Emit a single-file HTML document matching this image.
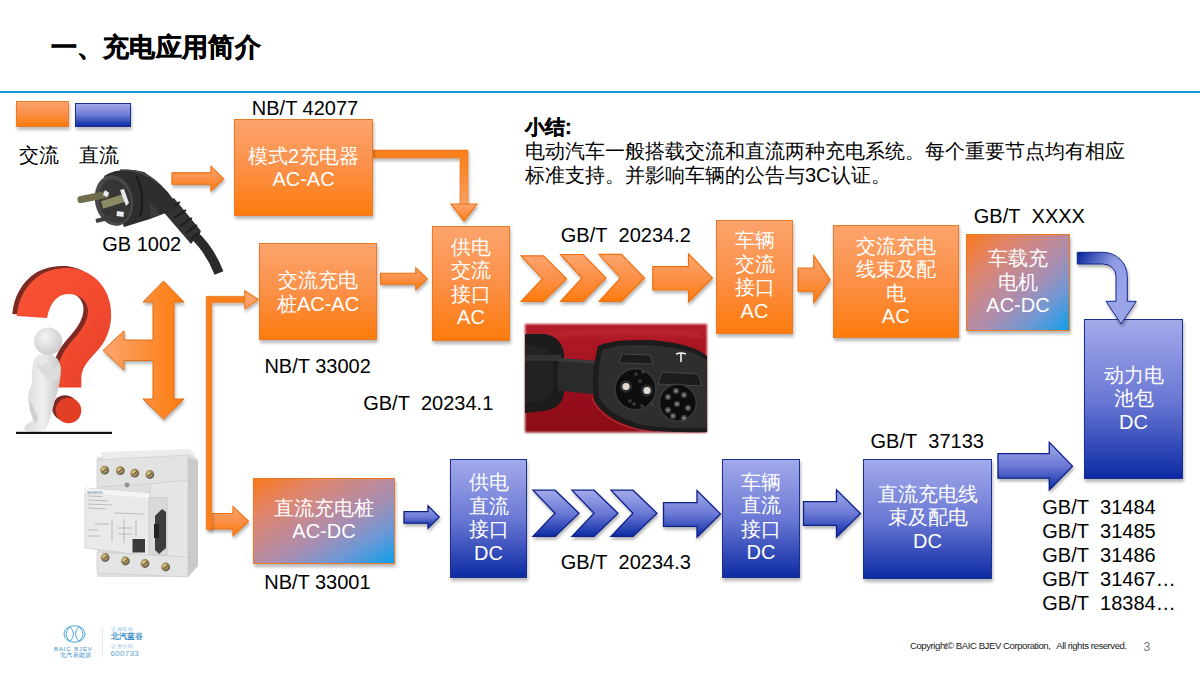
<!DOCTYPE html><html><head><meta charset="utf-8"><style>
*{margin:0;padding:0;box-sizing:border-box}
html,body{width:1200px;height:675px;overflow:hidden;background:#fff}
body{position:relative;font-family:"Liberation Sans",sans-serif;color:#000}
.a{position:absolute}
.box{position:absolute;display:flex;align-items:center;justify-content:center;text-align:center;color:#fff;font-size:20px;line-height:23.5px;box-shadow:1px 3px 3px rgba(0,0,0,0.28)}
.o{background:linear-gradient(180deg,#FCA46C 0%,#FB9048 50%,#FD7B0C 100%);border:1px solid #EB7A28}
.b{background:linear-gradient(180deg,#A2AAEA 0%,#6C79D5 50%,#0C2BA4 100%);border:1px solid #1B2F8F}
.g{background:linear-gradient(to bottom right,#F8781A 0%,#E38466 22%,#C48A92 42%,#A98DB0 58%,#6E98D6 78%,#0E9EE8 100%);border:1px solid #EC7A22}
.lab{position:absolute;font-size:20px;line-height:20px;white-space:nowrap}
</style></head><body>
<svg class="a" style="left:0;top:0" width="1200" height="675" viewBox="0 0 1200 675">
<defs>
<linearGradient id="qred" x1="0" y1="0" x2="1" y2="1"><stop offset="0" stop-color="#F85235"/><stop offset="0.6" stop-color="#F24A2F"/><stop offset="1" stop-color="#E03E26"/></linearGradient>
<radialGradient id="fig" cx="0.4" cy="0.35" r="0.7"><stop offset="0" stop-color="#F4F4F4"/><stop offset="1" stop-color="#C9C9C9"/></radialGradient>
<linearGradient id="figb" x1="0" y1="0" x2="1" y2="0"><stop offset="0" stop-color="#DADADA"/><stop offset="0.5" stop-color="#EFEFEF"/><stop offset="1" stop-color="#C4C4C4"/></linearGradient>
<linearGradient id="carred" x1="0" y1="0" x2="0" y2="1"><stop offset="0" stop-color="#B51E2A"/><stop offset="0.5" stop-color="#9E0E1C"/><stop offset="1" stop-color="#8A0A18"/></linearGradient>
<filter id="blur1"><feGaussianBlur stdDeviation="1.2"/></filter>
<filter id="blur05"><feGaussianBlur stdDeviation="0.5"/></filter>
<radialGradient id="brass" cx="0.4" cy="0.4" r="0.6"><stop offset="0" stop-color="#E8D8A0"/><stop offset="0.6" stop-color="#A08850"/><stop offset="1" stop-color="#555"/></radialGradient>
</defs>
<g filter="url(#blur05)">
<path d="M194,235 Q210,250 219,273" stroke="#2A2A2A" stroke-width="9.5" fill="none" stroke-linecap="butt"/>
<polygon points="174,198 201,231 191,244 160,208" fill="#333"/>
<path d="M168,210 L180,202 M174,218 L186,210 M180,226 L192,218 M186,233 L197,225 M191,239 L200,232" stroke="#1C1C1C" stroke-width="2"/>
<path d="M104,176 Q120,166 144,172 Q163,184 173,199 L176,210 L163,214 L150,219 L124,227 Z" fill="#2D2D2D"/>
<path d="M136,176 Q146,195 140,216" stroke="#1E1E1E" stroke-width="2" fill="none"/>
<path d="M120,170 Q142,169 158,183" stroke="#4A4A4A" stroke-width="1.6" fill="none"/>
<path d="M149,203 Q157,206 159,215 L151,218 Z" fill="#3A3A3A"/>
<ellipse cx="114" cy="200.5" rx="19" ry="25.5" transform="rotate(-12 114 200.5)" fill="#4A4646"/>
<ellipse cx="115" cy="201" rx="15.5" ry="22" transform="rotate(-12 115 201)" fill="#383535"/>
<line x1="81" y1="199.5" x2="106" y2="194.5" stroke="#6F6C4E" stroke-width="7" stroke-linecap="round"/>
<line x1="102" y1="205" x2="124" y2="198" stroke="#8B8A62" stroke-width="8" stroke-linecap="butt"/>
<line x1="96" y1="221" x2="112" y2="217" stroke="#3E3E3E" stroke-width="4"/>
<path d="M105,190 l4,3 l-2,4 l-4,-2 Z" fill="#E8EEF2"/>
<path d="M120,190 l4,-1 l5,14 l-3,3 Z" fill="#E4EAF0"/>
<path d="M117,211 l7,1 l-0.5,5 l-7,-1 Z" fill="#E4EAF0"/>
</g>
<path d="M16.8,316 C18,300 26,284 40,275 C50,269 60,268 68,268 C80,268 96,274 105,290 C112,302 113,320 108,333 C104,345 96,352 89,360 C84,366 81.3,372 81.3,378 L81.3,387.5 L58,387.5 L58,370 C59,358 65,349 72,341 C80,332 88,322 88,311 C88,301 80,294 68,294 C58,294 50,302 47,318 Z" fill="#7E2A24" transform="translate(-4.5,-2)"/>
<path d="M16.8,316 C18,300 26,284 40,275 C50,269 60,268 68,268 C80,268 96,274 105,290 C112,302 113,320 108,333 C104,345 96,352 89,360 C84,366 81.3,372 81.3,378 L81.3,387.5 L58,387.5 L58,370 C59,358 65,349 72,341 C80,332 88,322 88,311 C88,301 80,294 68,294 C58,294 50,302 47,318 Z" fill="url(#qred)"/>
<ellipse cx="65" cy="408" rx="12.8" ry="12.8" fill="#7E2A24"/>
<ellipse cx="68.5" cy="410.5" rx="12.8" ry="12.8" fill="#E23E26"/>
<g>
<path d="M34,360 Q40,352 50,354 Q59,357 61,367 Q61,381 57,393 L52,411 Q50,420 47,426 L45,430 Q36,433 26,431 Q22,428 27,424 L33,420 Q29,410 28,400 Q28,390 32,384 Q31,370 34,360 Z" fill="url(#figb)"/>
<path d="M30,400 Q34,408 38,418 L36,424 Q30,414 29,404 Z" fill="#D0D0D0"/>
<path d="M59,364 Q63,377 55,381 Q44,379 37,367 Q34,358 39,355 Q46,364 53,369 Z" fill="#DCDCDC"/>
<path d="M36,358 Q41,352 46,357 L44,366 Q38,366 36,362 Z" fill="#E8E8E8"/>
<ellipse cx="48.2" cy="341.3" rx="14" ry="13.8" fill="url(#fig)"/>
</g>
<rect x="16" y="431.8" width="96" height="2.2" fill="#111"/>
<g filter="url(#blur05)" stroke-linejoin="round">
<polygon points="97,457 190,452 198,460 198,566 188,577 97,577" fill="#DEDEDE"/>
<polygon points="186,456 198,461 198,566 188,577" fill="#CACACA"/>
<polygon points="100,452 190,449 196,455 104,460" fill="#ECECEC"/>
<polygon points="97,460 188,455 188,482 97,487" fill="#E2E2E2" stroke="#C8C8C8" stroke-width="0.6"/>
<circle cx="104.7" cy="470.2" r="4.4" fill="url(#brass)"/><path d="M102.7,471.7 l4,-3" stroke="#4A3E20" stroke-width="1"/>
<circle cx="120.3" cy="470.7" r="4.4" fill="url(#brass)"/><path d="M118.3,472.2 l4,-3" stroke="#4A3E20" stroke-width="1"/>
<circle cx="134.7" cy="473.2" r="4.4" fill="url(#brass)"/><path d="M132.7,474.7 l4,-3" stroke="#4A3E20" stroke-width="1"/>
<circle cx="149.8" cy="474.5" r="4.4" fill="url(#brass)"/><path d="M147.8,476 l4,-3" stroke="#4A3E20" stroke-width="1"/>
<circle cx="127" cy="485" r="2.4" fill="#8E8E8E"/>
<polygon points="150,484 188,480 188,560 150,556" fill="#E6E6E6" stroke="#C4C4C4" stroke-width="0.6"/>
<polygon points="85,488 150,493 150,556 85,548" fill="#E9E9E9" stroke="#C2C2C2" stroke-width="0.6"/>
<polygon points="85,488 150,493 150,498 85,493" fill="#F4F4F4"/>
<rect x="149" y="497.5" width="18" height="57.5" fill="#D9D9D9" stroke="#BDBDBD" stroke-width="0.6"/>
<polygon points="155,516 162,509 166,512 166,548 159,554 155,550" fill="#3C3C3C"/>
<rect x="154" y="524" width="5" height="14" fill="#242424"/>
<rect x="132.5" y="539" width="12.5" height="13.5" fill="#3A3A3A"/>
<path d="M88,496 l14,0.5 M88,500 l20,1 M88,504 l24,1 M88,508 l18,1 M114,513 l30,1 M95,524 l14,0 M112,520 l0,22 M124,519 l0,24 M136,521 l0,16 M88,530 l10,0 M88,536 l12,0 M118,528 l14,0 M118,534 l14,0" stroke="#A8A8A8" stroke-width="0.7"/>
<text x="87" y="494" font-size="3.5" fill="#6A8AA0" font-family="Liberation Sans">SIEMENS</text>
<polygon points="97,552 188,557 188,577 97,573" fill="#E4E4E4" stroke="#C8C8C8" stroke-width="0.6"/>
<circle cx="105.2" cy="557.5" r="4.4" fill="url(#brass)"/><path d="M103.2,559 l4,-3" stroke="#4A3E20" stroke-width="1"/>
<circle cx="125.4" cy="561" r="4.4" fill="url(#brass)"/><path d="M123.4,562.5 l4,-3" stroke="#4A3E20" stroke-width="1"/>
<circle cx="145" cy="563.5" r="4.4" fill="url(#brass)"/><path d="M143,565 l4,-3" stroke="#4A3E20" stroke-width="1"/>
<circle cx="165.7" cy="567" r="4.4" fill="url(#brass)"/><path d="M163.7,568.5 l4,-3" stroke="#4A3E20" stroke-width="1"/>
</g>
<g filter="url(#blur05)">
<rect x="525" y="324" width="182" height="108.5" fill="url(#carred)" filter="url(#blur1)"/>
<path d="M540,336 Q600,328 700,334" stroke="#C03040" stroke-width="6" fill="none" opacity="0.35"/>
<path d="M525,334 L546,334 Q562,338 564,354 L564,394 Q562,408 544,411 L525,413 Z" fill="#1B1B1B"/>
<path d="M525,346 L540,346 Q552,350 553,362 L553,390 Q551,400 538,402 L525,403 Z" fill="#222"/><rect x="525" y="355" width="36" height="6" fill="#333"/>
<path d="M558,358 L610,362 L610,396 L558,390.5 Z" fill="#2B2B2B"/>
<path d="M558,358 L610,362 L610,365 L558,361 Z" fill="#3A3A3A"/>
<path d="M598,346 Q612,339 650,340 Q692,343 707,356 L707,432 Q670,433 640,429 Q605,420 594,400 Q591,372 598,346 Z" fill="#1A1A1A"/><path d="M602,350 Q615,344 650,345 Q690,348 707,360 L707,428 Q670,429 642,425 Q610,416 599,398 Q596,374 602,350 Z" fill="#2E2E2E"/>
<path d="M592,398 Q602,424 650,432" stroke="#D05A68" stroke-width="1" fill="none" opacity="0.6"/>
<path d="M622,354 L650,355 L653,364 L619,363 Z" fill="#1E1E1E" stroke="#4A4A4A" stroke-width="0.9"/>
<path d="M662,372 L698,374 L702,386 L658,384 Z" fill="#1E1E1E" stroke="#4A4A4A" stroke-width="0.9"/>
<circle cx="635.4" cy="389.2" r="20.5" fill="#0E0E0E" stroke="#3A3A3A" stroke-width="1.5"/>
<circle cx="677.8" cy="402.7" r="18.5" fill="#101010" stroke="#3A3A3A" stroke-width="1.5"/>
<circle cx="626" cy="386.5" r="6" fill="#2E2E2E"/><circle cx="626" cy="386.5" r="3.6" fill="#E2DAD2"/>
<circle cx="647" cy="390.5" r="6" fill="#2E2E2E"/><circle cx="647" cy="390.5" r="3.6" fill="#E2DAD2"/>
<circle cx="636" cy="374" r="1.8" fill="#3C3C3C"/>
<circle cx="643" cy="372" r="1.8" fill="#3C3C3C"/>
<circle cx="640" cy="381" r="1.8" fill="#3C3C3C"/>
<circle cx="634" cy="404" r="1.8" fill="#3C3C3C"/>
<circle cx="642" cy="406" r="1.8" fill="#3C3C3C"/>
<circle cx="630" cy="401" r="1.8" fill="#3C3C3C"/>
<circle cx="652" cy="404" r="1.8" fill="#3C3C3C"/>
<circle cx="668" cy="397" r="3" fill="#4A4A4A"/><circle cx="668" cy="397" r="1.3" fill="#8A8A8A"/>
<circle cx="684" cy="395" r="3" fill="#4A4A4A"/><circle cx="684" cy="395" r="1.3" fill="#8A8A8A"/>
<circle cx="677" cy="404" r="3" fill="#4A4A4A"/><circle cx="677" cy="404" r="1.3" fill="#8A8A8A"/>
<circle cx="668" cy="410" r="3" fill="#4A4A4A"/><circle cx="668" cy="410" r="1.3" fill="#8A8A8A"/>
<circle cx="688" cy="408" r="3" fill="#4A4A4A"/><circle cx="688" cy="408" r="1.3" fill="#8A8A8A"/>
<circle cx="673" cy="416" r="3" fill="#4A4A4A"/><circle cx="673" cy="416" r="1.3" fill="#8A8A8A"/>
<circle cx="684" cy="418" r="3" fill="#4A4A4A"/><circle cx="684" cy="418" r="1.3" fill="#8A8A8A"/>
<circle cx="676" cy="391" r="3" fill="#4A4A4A"/><circle cx="676" cy="391" r="1.3" fill="#8A8A8A"/>
<path d="M676,354 Q681,352 686,354 M681,353 l0,9" stroke="#F0F0F0" stroke-width="1.6" fill="none"/>
</g>
</svg>
<svg class="a" style="left:0;top:0" width="1200" height="675" viewBox="0 0 1200 675">
<defs>
<linearGradient id="og" x1="0" y1="0" x2="0" y2="1"><stop offset="0" stop-color="#FCA56E"/><stop offset="0.5" stop-color="#FB9048"/><stop offset="1" stop-color="#FD7B0C"/></linearGradient>
<linearGradient id="ogh" x1="0" y1="0" x2="1" y2="0"><stop offset="0" stop-color="#FCA56E"/><stop offset="1" stop-color="#FD7B0C"/></linearGradient>
<linearGradient id="bg" x1="0" y1="0" x2="0" y2="1"><stop offset="0" stop-color="#A2AAEA"/><stop offset="0.5" stop-color="#6C79D5"/><stop offset="1" stop-color="#0C2BA4"/></linearGradient>
<linearGradient id="bgc" gradientUnits="userSpaceOnUse" x1="1077" y1="258" x2="1125" y2="290"><stop offset="0" stop-color="#0E2A9E"/><stop offset="0.55" stop-color="#8E99E2"/><stop offset="1" stop-color="#9AA4E8"/></linearGradient>
<linearGradient id="elb" gradientUnits="userSpaceOnUse" x1="0" y1="150" x2="0" y2="205"><stop offset="0" stop-color="#F97F1C"/><stop offset="0.25" stop-color="#F98424"/><stop offset="1" stop-color="#F9A163"/></linearGradient>
<filter id="sh" x="-20%" y="-20%" width="140%" height="150%"><feDropShadow dx="1" dy="2.5" stdDeviation="1.5" flood-color="#000" flood-opacity="0.3"/></filter>
</defs>
<polygon fill="url(#og)" stroke="#F0700E" stroke-width="1.15" filter="url(#sh)" points="172,172.8 211,172.8 211,166.4 223.5,178.7 211,191 211,184.2 172,184.2"/>
<polygon fill="url(#elb)" stroke="#E87620" stroke-width="0.6" filter="url(#sh)" points="373,150 468,150 468,205 460,205 460,158 373,158"/>
<polygon fill="url(#og)" stroke="#F0700E" stroke-width="1.15" filter="url(#sh)" points="451,204 477,204 464,221"/>
<polygon fill="url(#og)" stroke="#F0700E" stroke-width="1.15" filter="url(#sh)" points="380.5,273.2 415.8,273.2 415.8,267.8 427.2,278.8 415.8,289.8 415.8,284.2 380.5,284.2"/>
<polygon fill="url(#og)" stroke="#F0700E" stroke-width="1.15" filter="url(#sh)" points="521,255.8 543.5,255.8 566.5,278.65 543.5,301.5 521,301.5 542.5,278.65"/>
<polygon fill="url(#og)" stroke="#F0700E" stroke-width="1.15" filter="url(#sh)" points="560.5,254.5 583,254.5 606,278 583,301.5 560.5,301.5 582,278"/>
<polygon fill="url(#og)" stroke="#F0700E" stroke-width="1.15" filter="url(#sh)" points="599,254.3 621.5,254.3 644.5,277.9 621.5,301.5 599,301.5 620.5,277.9"/>
<polygon fill="url(#og)" stroke="#F0700E" stroke-width="1.15" filter="url(#sh)" points="652.8,266.6 688.5,266.6 688.5,253.8 712.4,277.9 688.5,302 688.5,290 652.8,290"/>
<polygon fill="url(#og)" stroke="#F0700E" stroke-width="1.15" filter="url(#sh)" points="798,268 813.8,268 813.8,255.6 830,279.4 813.8,303.2 813.8,291.2 798,291.2"/>
<polygon fill="url(#ogh)" stroke="#E06E18" stroke-width="1" filter="url(#sh)" points="163.5,281 184,302 174,302 174,399 184,399 163.5,419 143,399 153,399 153,360.5 124,360.5 124,370 103,350.5 124,330.7 124,340 153,340 153,302 143,302"/>
<polygon fill="url(#og)" stroke="#F0700E" stroke-width="1.15" filter="url(#sh)" points="209,513.5 233,513.5 233,506.6 248.5,521.3 233,536 233,528.8 209,528.8"/>
<polygon fill="#F97F1C" stroke="#E87620" stroke-width="0.6" filter="url(#sh)" points="206.2,296.3 246,296.3 246,302.6 211.8,302.6 211.8,529.4 206.2,529.4"/>
<polygon fill="#F9A06C" stroke="#F47C1E" stroke-width="1.3" filter="url(#sh)" points="244.8,290.8 258.3,299.4 244.8,308.6"/>
<polygon fill="url(#bg)" stroke="#0C2088" stroke-width="1.3" filter="url(#sh)" points="404,511.6 428,511.6 428,505.8 439.2,517 428,528.2 428,523.2 404,523.2"/>
<polygon fill="url(#bg)" stroke="#0C2088" stroke-width="1.3" filter="url(#sh)" points="533,490.2 555,490.2 579,513.3 555,536.4 533,536.4 555,513.3"/>
<polygon fill="url(#bg)" stroke="#0C2088" stroke-width="1.3" filter="url(#sh)" points="572,490.2 594,490.2 618,513.3 594,536.4 572,536.4 594,513.3"/>
<polygon fill="url(#bg)" stroke="#0C2088" stroke-width="1.3" filter="url(#sh)" points="611,490.2 633,490.2 657,513.3 633,536.4 611,536.4 633,513.3"/>
<polygon fill="url(#bg)" stroke="#0C2088" stroke-width="1.3" filter="url(#sh)" points="663.5,502.6 697,502.6 697,490.6 720.5,513.9 697,537.2 697,526.3 663.5,526.3"/>
<polygon fill="url(#bg)" stroke="#0C2088" stroke-width="1.3" filter="url(#sh)" points="803.5,501.7 836.5,501.7 836.5,489.8 860.5,513.5 836.5,537.2 836.5,525.3 803.5,525.3"/>
<polygon fill="url(#bg)" stroke="#0C2088" stroke-width="1.3" filter="url(#sh)" points="998,453.6 1049.3,453.6 1049.3,442.3 1072.5,466.15 1049.3,490 1049.3,478.2 998,478.2"/>
</svg>
<div class="a" style="left:50.5px;top:32px;font-size:26.4px;line-height:30px;font-weight:900;-webkit-text-stroke:0.45px #000;letter-spacing:0.3px;white-space:nowrap">一、充电应用简介</div>
<div class="a" style="left:0;top:91.2px;width:1200px;height:1.9px;background:#1498DE"></div>
<div class="a o" style="left:16px;top:101px;width:53px;height:26px;box-shadow:1px 3px 3px rgba(0,0,0,0.25)"></div>
<div class="a b" style="left:75px;top:103px;width:56px;height:24px;box-shadow:1px 3px 3px rgba(0,0,0,0.25)"></div>
<div class="lab" style="left:19px;top:145px;font-size:20px">交流</div>
<div class="lab" style="left:79px;top:145px;font-size:20px">直流</div>
<div class="a" style="left:525px;top:115px;font-size:20px;line-height:24px;white-space:nowrap"><b style="-webkit-text-stroke:0.35px #000">小结:</b><br>电动汽车一般搭载交流和直流两种充电系统。每个重要节点均有相应<br>标准支持。并影响车辆的公告与3C认证。</div>
<div id="b1" class="box o" style="left:234px;top:119px;width:139px;height:96.5px"><div style="position:relative;top:1px">模式2充电器<br>AC-AC</div></div>
<div id="b2" class="box o" style="left:259px;top:243px;width:118px;height:97px"><div style="position:relative;top:1px">交流充电<br>桩AC-AC</div></div>
<div id="b3" class="box o" style="left:432px;top:226px;width:78px;height:115px"><div style="position:relative;top:-1px">供电<br>交流<br>接口<br>AC</div></div>
<div id="b4" class="box o" style="left:716px;top:220px;width:77px;height:114px"><div style="position:relative;top:-1px">车辆<br>交流<br>接口<br>AC</div></div>
<div id="b5" class="box o" style="left:833px;top:225px;width:125.5px;height:113px"><div style="position:relative;top:0px">交流充电<br>线束及配<br>电<br>AC</div></div>
<div id="b6" class="box g" style="left:966px;top:234px;width:104px;height:96.5px"><div style="position:relative;top:0px">车载充<br>电机<br>AC-DC</div></div>
<div id="b7" class="box g" style="left:253px;top:478px;width:142px;height:86px"><div style="position:relative;top:-1px">直流充电桩<br>AC-DC</div></div>
<div id="b8" class="box b" style="left:1084px;top:319px;width:99px;height:160px"><div style="position:relative;top:0px">动力电<br>池包<br>DC</div></div>
<div id="b9" class="box b" style="left:450px;top:459px;width:77px;height:118.5px"><div style="position:relative;top:0px">供电<br>直流<br>接口<br>DC</div></div>
<div id="b10" class="box b" style="left:722px;top:459px;width:78px;height:119px"><div style="position:relative;top:-1px">车辆<br>直流<br>接口<br>DC</div></div>
<div id="b11" class="box b" style="left:863px;top:459px;width:129px;height:120px"><div style="position:relative;top:-1px">直流充电线<br>束及配电<br>DC</div></div>
<svg class="a" style="left:1060px;top:240px" width="90" height="95" viewBox="1060 240 90 95">
<defs><linearGradient id="bgc2" gradientUnits="userSpaceOnUse" x1="1077" y1="258" x2="1125" y2="290"><stop offset="0" stop-color="#0E2A9E"/><stop offset="0.55" stop-color="#8E99E2"/><stop offset="1" stop-color="#9AA4E8"/></linearGradient><filter id="sh2" x="-20%" y="-20%" width="140%" height="150%"><feDropShadow dx="1" dy="2.5" stdDeviation="1.5" flood-color="#000" flood-opacity="0.3"/></filter></defs>
<path fill="url(#bgc2)" stroke="#14288C" stroke-width="1" filter="url(#sh2)" d="M1077.3,252.3 L1103,252.3 A24.3,24 0 0 1 1127.3,276.3 L1127.3,301.3 L1136.3,301.3 L1121,324 L1106,301.3 L1116,301.3 L1116,276 A13,12 0 0 0 1103,264 L1077.3,264 Z"/>
</svg>
<div class="lab" style="left:251.8px;top:98.4px">NB/T 42077</div>
<div class="lab" style="left:102.2px;top:233.9px">GB 1002</div>
<div class="lab" style="left:264.4px;top:355.8px">NB/T 33002</div>
<div class="lab" style="left:363.2px;top:392.7px">GB/T&nbsp; 20234.1</div>
<div class="lab" style="left:560.8px;top:224.7px">GB/T&nbsp; 20234.2</div>
<div class="lab" style="left:973.8px;top:205.9px">GB/T&nbsp; XXXX</div>
<div class="lab" style="left:870.5px;top:430.7px">GB/T&nbsp; 37133</div>
<div class="lab" style="left:264.2px;top:571.8px">NB/T 33001</div>
<div class="lab" style="left:560.8px;top:552.4px">GB/T&nbsp; 20234.3</div>
<div class="lab" style="left:1042.3px;top:497.4px">GB/T&nbsp; 31484</div>
<div class="lab" style="left:1042.3px;top:521.1px">GB/T&nbsp; 31485</div>
<div class="lab" style="left:1042.3px;top:545.1px">GB/T&nbsp; 31486</div>
<div class="lab" style="left:1042.3px;top:569.1px">GB/T&nbsp; 31467…</div>
<div class="lab" style="left:1042.3px;top:592.7px">GB/T&nbsp; 18384…</div>
<div class="a" style="left:910px;top:640px;font-size:9.6px;line-height:11px;letter-spacing:-0.45px;white-space:nowrap;color:#222">Copyright© BAIC BJEV Corporation<span style="letter-spacing:0">,&nbsp;&nbsp;</span>All rights reserved.</div>
<div class="a" style="left:1143.5px;top:640px;font-size:12.3px;line-height:14px;color:#777">3</div>
<svg class="a" style="left:0;top:600px" width="200" height="75" viewBox="0 600 200 75"><g fill="none" stroke="#4FA9DB" stroke-width="1"><ellipse cx="74.5" cy="634" rx="10.5" ry="8.3"/><path d="M70,626.5 Q62,634 70,641.5 M79,626.5 Q87,634 79,641.5 M70,626.5 Q77,634 70,641.5 M79,626.5 Q72,634 79,641.5"/></g><rect x="102" y="627" width="0.8" height="30" fill="#CDE6F3"/></svg>
<div class="a" style="left:54px;top:645.5px;font-size:6px;line-height:6px;color:#3D8FCB;letter-spacing:0.9px;white-space:nowrap">BAIC BJEV</div>
<div class="a" style="left:60px;top:651.5px;font-size:5.5px;line-height:6px;color:#3D8FCB;letter-spacing:0.3px;white-space:nowrap">北汽新能源</div>
<div class="a" style="left:111px;top:627px;font-size:4.5px;line-height:5px;color:#8CC3E6;letter-spacing:0.6px;white-space:nowrap">证券简称</div>
<div class="a" style="left:111px;top:633px;font-size:7.6px;line-height:8px;color:#3C8DC8;font-weight:bold;white-space:nowrap">北汽蓝谷</div>
<div class="a" style="left:111px;top:643.5px;font-size:4.5px;line-height:5px;color:#8CC3E6;letter-spacing:0.6px;white-space:nowrap">证券代码</div>
<div class="a" style="left:110.5px;top:649.5px;font-size:8px;line-height:8px;color:#5AA6D8;letter-spacing:0.3px;white-space:nowrap">600733</div>
</body></html>
